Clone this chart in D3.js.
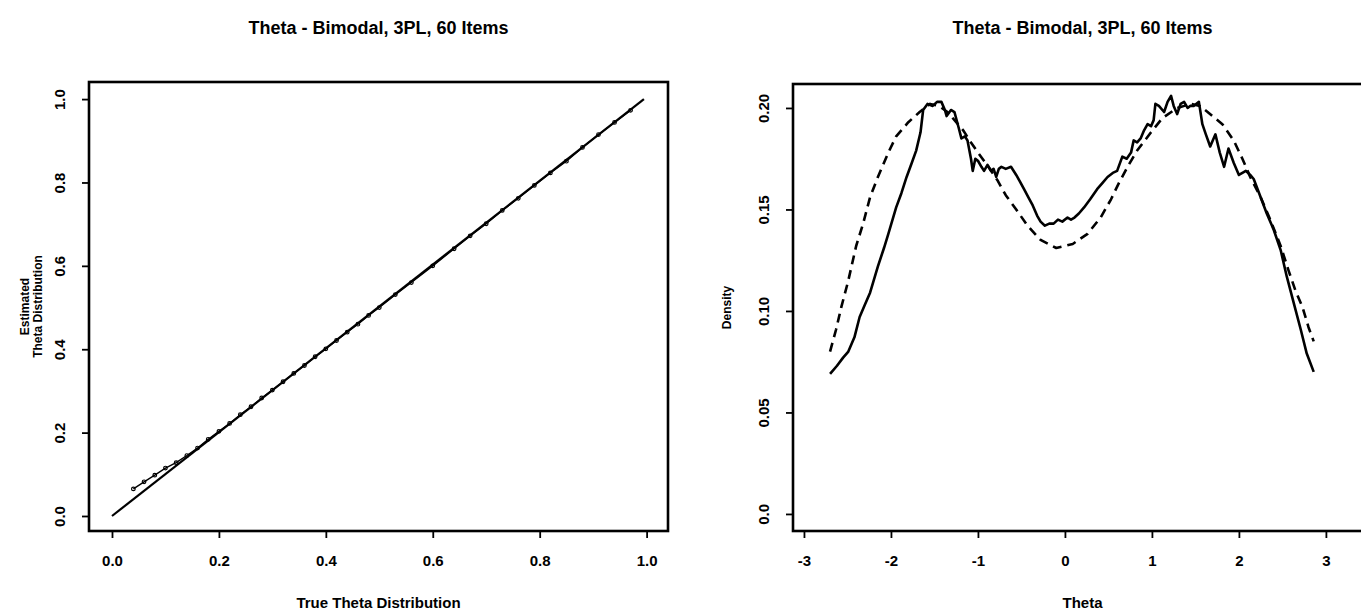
<!DOCTYPE html>
<html>
<head>
<meta charset="utf-8">
<script src="https://cdn.jsdelivr.net/npm/d3@7"></script>
<style>
  body { margin: 0; background: #fff; }
  svg { display: block; }
</style>
</head>
<body>
<svg class="chart" width="1361" height="612"></svg>
<script>

var titleText = "Theta - Bimodal, 3PL, 60 Items";

// Left panel: true vs estimated theta distribution quantiles
var refLineX = [0.0, 0.995];
var refLineY = [0.0, 1.0];
var trueQuantiles = [0.04, 0.06, 0.08, 0.10, 0.12, 0.14, 0.16, 0.18, 0.20, 0.22, 0.24, 0.26, 0.28, 0.30,
  0.32, 0.34, 0.36, 0.38, 0.40, 0.42, 0.44, 0.46, 0.48, 0.50, 0.53, 0.56, 0.60, 0.64, 0.67, 0.70,
  0.73, 0.76, 0.79, 0.82, 0.85, 0.88, 0.91, 0.94, 0.97];
var estQuantiles = [0.065, 0.082, 0.098, 0.115, 0.128, 0.145, 0.163, 0.184, 0.203, 0.222, 0.243, 0.262, 0.283, 0.302,
  0.322, 0.342, 0.361, 0.382, 0.401, 0.421, 0.441, 0.460, 0.481, 0.500, 0.531, 0.560, 0.600, 0.641, 0.672, 0.701,
  0.733, 0.762, 0.793, 0.823, 0.851, 0.884, 0.915, 0.944, 0.973];
var leftTicks = [0, 0.2, 0.4, 0.6, 0.8, 1.0];
var leftTickLabels = ["0.0", "0.2", "0.4", "0.6", "0.8", "1.0"];

// Right panel: estimated density (solid) and true density (dashed)
var thetaEst = [-2.70, -2.62, -2.55, -2.49, -2.42, -2.36, -2.30, -2.24, -2.15, -2.08, -2.03, -1.94, -1.88, -1.82,
  -1.76, -1.71, -1.66, -1.63, -1.58, -1.52, -1.47, -1.42, -1.38, -1.36, -1.31, -1.27, -1.22, -1.19, -1.15, -1.12,
  -1.08, -1.06, -1.03, -1.00, -0.96, -0.93, -0.89, -0.85, -0.82, -0.79, -0.76, -0.73, -0.68, -0.62, -0.56, -0.52,
  -0.47, -0.42, -0.37, -0.32, -0.28, -0.23, -0.18, -0.13, -0.08, -0.03, 0.03, 0.07, 0.11, 0.16, 0.22, 0.29, 0.37,
  0.43, 0.49, 0.55, 0.60, 0.66, 0.71, 0.76, 0.79, 0.83, 0.87, 0.91, 0.95, 0.99, 1.02, 1.04, 1.08, 1.14, 1.18, 1.22,
  1.25, 1.29, 1.33, 1.37, 1.41, 1.44, 1.48, 1.54, 1.58, 1.62, 1.67, 1.73, 1.78, 1.83, 1.88, 1.94, 2.00, 2.04, 2.08,
  2.13, 2.17, 2.25, 2.32, 2.40, 2.48, 2.55, 2.63, 2.71, 2.78, 2.86];
var densityEst = [0.069, 0.073, 0.077, 0.080, 0.087, 0.097, 0.103, 0.109, 0.122, 0.131, 0.138, 0.151, 0.158, 0.166,
  0.173, 0.179, 0.188, 0.199, 0.202, 0.201, 0.203, 0.203, 0.199, 0.196, 0.199, 0.198, 0.190, 0.185, 0.186, 0.184,
  0.175, 0.169, 0.175, 0.174, 0.171, 0.169, 0.172, 0.169, 0.170, 0.166, 0.170, 0.171, 0.170, 0.171, 0.167, 0.164,
  0.160, 0.156, 0.152, 0.147, 0.144, 0.142, 0.143, 0.143, 0.145, 0.144, 0.146, 0.145, 0.146, 0.148, 0.151, 0.155, 0.160,
  0.163, 0.166, 0.168, 0.169, 0.176, 0.175, 0.178, 0.184, 0.183, 0.185, 0.189, 0.192, 0.191, 0.194, 0.202, 0.201, 0.198, 0.203, 0.206,
  0.201, 0.197, 0.202, 0.203, 0.200, 0.201, 0.201, 0.203, 0.192, 0.187, 0.181, 0.187, 0.178, 0.171, 0.180, 0.173, 0.167, 0.168, 0.169,
  0.167, 0.165, 0.156, 0.148, 0.140, 0.130, 0.117, 0.104, 0.091, 0.079, 0.070];

var thetaTrue = [-2.70, -2.63, -2.57, -2.49, -2.40, -2.32, -2.24, -2.15, -2.03, -1.94, -1.80, -1.67, -1.55, -1.45,
  -1.35, -1.25, -1.17, -1.08, -1.00, -0.88, -0.77, -0.68, -0.56, -0.43, -0.28, -0.10, 0.09, 0.26, 0.41, 0.53, 0.62,
  0.72, 0.83, 0.99, 1.12, 1.29, 1.45, 1.55, 1.64, 1.81, 1.94, 2.04, 2.13, 2.25, 2.36, 2.48, 2.57, 2.65, 2.73, 2.80, 2.86];
var densityTrue = [0.080, 0.091, 0.102, 0.115, 0.132, 0.143, 0.156, 0.166, 0.178, 0.186, 0.193, 0.198, 0.202, 0.201,
  0.198, 0.193, 0.189, 0.183, 0.178, 0.171, 0.164, 0.157, 0.150, 0.142, 0.135, 0.131, 0.133, 0.138, 0.146, 0.155, 0.163,
  0.171, 0.179, 0.188, 0.195, 0.200, 0.202, 0.201, 0.198, 0.192, 0.184, 0.175, 0.166, 0.156, 0.145, 0.132, 0.120, 0.110, 0.102, 0.092, 0.085];

var thetaTicks = [-3, -2, -1, 0, 1, 2, 3];
var densityTicks = [0, 0.05, 0.10, 0.15, 0.20];
var densityTickLabels = ["0.0", "0.05", "0.10", "0.15", "0.20"];

var fontFamily = "'Liberation Sans', Arial, Helvetica, sans-serif";

var svg = d3.select("svg.chart");

function drawPanel(opts) {
  var x = d3.scaleLinear().domain(opts.xDomain).range([opts.left, opts.right]);
  var y = d3.scaleLinear().domain(opts.yDomain).range([opts.bottom, opts.top]);

  var panel = svg.append("g").attr("class", "panel");

  // x axis ticks + labels
  var xAxis = panel
    .append("g")
    .attr("transform", `translate(0, ${opts.bottom})`)
    .call(
      d3.axisBottom(x)
        .tickValues(opts.xTicks)
        .tickFormat((d, i) => opts.xTickLabels[i])
        .tickSize(7)
        .tickPadding(17)
    );
  xAxis.select(".domain").remove();

  // y axis ticks + labels (R style: labels parallel to the axis)
  var yAxis = panel
    .append("g")
    .attr("transform", `translate(${opts.left}, 0)`)
    .call(
      d3.axisLeft(y)
        .tickValues(opts.yTicks)
        .tickFormat((d, i) => opts.yTickLabels[i])
        .tickSize(7)
    );
  yAxis.select(".domain").remove();
  yAxis
    .selectAll(".tick text")
    .attr("transform", "rotate(-90)")
    .attr("x", 0)
    .attr("y", -24)
    .attr("dy", 0)
    .style("text-anchor", "middle");

  panel.selectAll(".tick line").style("stroke", "#000").style("stroke-width", 1.8);
  panel
    .selectAll(".tick text")
    .style("fill", "#000")
    .style("font-family", fontFamily)
    .style("font-size", "15px")
    .style("font-weight", "bold");

  // series
  opts.series.forEach(s => {
    var pts = s.xs.map((v, i) => [v, s.ys[i]]);
    panel
      .append("path")
      .datum(pts)
      .attr("d", d3.line().x(d => x(d[0])).y(d => y(d[1])))
      .style("fill", "none")
      .style("stroke", "#000")
      .style("stroke-width", s.width)
      .style("stroke-dasharray", s.dash || null)
      .style("stroke-linejoin", "round");
    if (s.points) {
      panel
        .append("g")
        .selectAll("circle")
        .data(pts)
        .join("circle")
        .attr("cx", d => x(d[0]))
        .attr("cy", d => y(d[1]))
        .attr("r", 1.8)
        .style("fill", "none")
        .style("stroke", "#000")
        .style("stroke-width", 1.2);
    }
  });

  // plot box
  panel
    .append("rect")
    .attr("x", opts.left)
    .attr("y", opts.top)
    .attr("width", opts.right - opts.left)
    .attr("height", opts.bottom - opts.top)
    .style("fill", "none")
    .style("stroke", "#000")
    .style("stroke-width", 2.6);

  var cx = (opts.left + opts.right) / 2;
  var cy = (opts.top + opts.bottom) / 2;

  panel
    .append("text")
    .text(titleText)
    .attr("x", cx)
    .attr("y", 34)
    .style("font-family", fontFamily)
    .style("font-size", "18px")
    .style("font-weight", "bold")
    .style("text-anchor", "middle");

  panel
    .append("text")
    .text(opts.xTitle)
    .attr("x", cx)
    .attr("y", 608)
    .style("font-family", fontFamily)
    .style("font-size", "15px")
    .style("font-weight", "bold")
    .style("text-anchor", "middle");

  opts.yTitle.forEach((line, i) => {
    panel
      .append("text")
      .text(line)
      .attr("transform", `translate(${opts.yTitleX[i]}, ${cy}) rotate(-90)`)
      .style("font-family", fontFamily)
      .style("font-size", "12px")
      .style("font-weight", "bold")
      .style("text-anchor", "middle");
  });
}

drawPanel({
  left: 89, right: 668, top: 82, bottom: 531,
  xDomain: [-0.043, 1.04], yDomain: [-0.036, 1.041],
  xTicks: leftTicks, xTickLabels: leftTickLabels,
  yTicks: leftTicks, yTickLabels: leftTickLabels,
  xTitle: "True Theta Distribution",
  yTitle: ["Estimated", "Theta Distribution"],
  yTitleX: [29, 42],
  series: [
    { xs: refLineX, ys: refLineY, width: 2.2 },
    { xs: trueQuantiles, ys: estQuantiles, width: 1.4, points: true }
  ]
});

drawPanel({
  left: 793, right: 1372, top: 84, bottom: 531,
  xDomain: [-3.126, 3.53], yDomain: [-0.0084, 0.2118],
  xTicks: thetaTicks, xTickLabels: thetaTicks.map(String),
  yTicks: densityTicks, yTickLabels: densityTickLabels,
  xTitle: "Theta",
  yTitle: ["Density"],
  yTitleX: [731],
  series: [
    { xs: thetaTrue, ys: densityTrue, width: 2.6, dash: "9,6" },
    { xs: thetaEst, ys: densityEst, width: 2.6 }
  ]
});

</script>
</body>
</html>
